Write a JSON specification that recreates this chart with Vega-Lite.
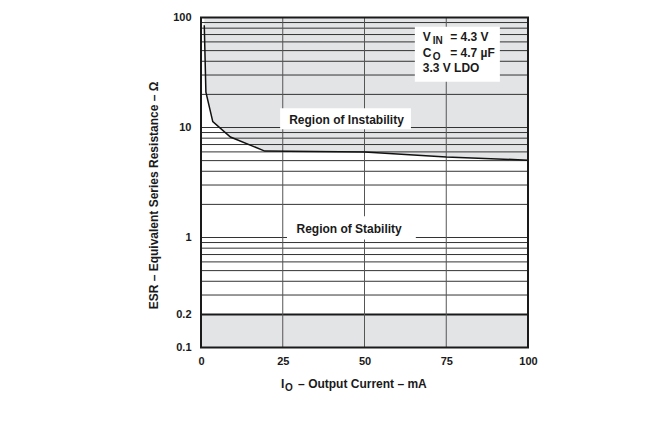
{
  "$schema": "https://vega.github.io/schema/vega-lite/v6.json",
  "width": 327,
  "height": 330,
  "autosize": {"type": "none"},
  "padding": {"left": 201, "top": 17.5, "right": 139, "bottom": 74.5},
  "background": "white",
  "config": {
    "font": "Liberation Sans",
    "view": {"stroke": null}
  },
  "datasets": {
    "curve": [
      {"x": 1.0, "y": 85},
      {"x": 1.5, "y": 21},
      {"x": 3.6, "y": 11.3},
      {"x": 9, "y": 8.2},
      {"x": 19.5, "y": 6.1},
      {"x": 50, "y": 6.0},
      {"x": 75, "y": 5.4},
      {"x": 100, "y": 5.05}
    ],
    "band": [{"x": 0, "x2": 100, "y": 0.1, "y2": 0.2}],
    "frame": [{"x": 0, "x2": 100, "y": 0.1, "y2": 100}],
    "hgrid": [
      {"x": 0, "x2": 100, "y": 0.3}, {"x": 0, "x2": 100, "y": 0.4}, {"x": 0, "x2": 100, "y": 0.5},
      {"x": 0, "x2": 100, "y": 0.6}, {"x": 0, "x2": 100, "y": 0.7}, {"x": 0, "x2": 100, "y": 0.8},
      {"x": 0, "x2": 100, "y": 0.9}, {"x": 0, "x2": 100, "y": 1}, {"x": 0, "x2": 100, "y": 2},
      {"x": 0, "x2": 100, "y": 3}, {"x": 0, "x2": 100, "y": 4}, {"x": 0, "x2": 100, "y": 5},
      {"x": 0, "x2": 100, "y": 6}, {"x": 0, "x2": 100, "y": 7}, {"x": 0, "x2": 100, "y": 8},
      {"x": 0, "x2": 100, "y": 9}, {"x": 0, "x2": 100, "y": 10}, {"x": 0, "x2": 100, "y": 20},
      {"x": 0, "x2": 100, "y": 30}, {"x": 0, "x2": 100, "y": 40}, {"x": 0, "x2": 100, "y": 50},
      {"x": 0, "x2": 100, "y": 60}, {"x": 0, "x2": 100, "y": 70}, {"x": 0, "x2": 100, "y": 80},
      {"x": 0, "x2": 100, "y": 90}
    ],
    "thick": [{"x": 0, "x2": 100, "y": 0.2}],
    "vgrid": [
      {"x": 25, "y": 0.1, "y2": 100},
      {"x": 50, "y": 0.1, "y2": 100},
      {"x": 75, "y": 0.1, "y2": 100}
    ],
    "boxes": [
      {"x": 24.2, "x2": 64.2, "y": 9.66, "y2": 15.0},
      {"x": 26.3, "x2": 65.7, "y": 0.96, "y2": 1.56},
      {"x": 65.4, "x2": 91.4, "y": 26, "y2": 82.4}
    ],
    "regions": [
      {"x": 44.5, "y": 11.8, "text": "Region of Instability"},
      {"x": 45.3, "y": 1.19, "text": "Region of Stability"}
    ],
    "main": [
      {"x": 67.8, "y": 66.8, "text": "V"},
      {"x": 67.8, "y": 47.2, "text": "C"},
      {"x": 67.8, "y": 34.5, "text": "3.3 V LDO"},
      {"x": 24.5, "y": 0.0466, "text": "I"}
    ],
    "subs": [
      {"x": 67.8, "y": 66.8, "text": "IN"},
      {"x": 67.8, "y": 47.2, "text": "O"}
    ],
    "xsub": [{"x": 24.5, "y": 0.0466, "text": "O"}],
    "rest": [
      {"x": 67.8, "y": 66.8, "text": "= 4.3 V"},
      {"x": 67.8, "y": 47.2, "text": "= 4.7 µF"}
    ],
    "xtitle": [{"x": 29.7, "y": 0.0466, "text": "– Output Current – mA"}]
  },
  "encoding": {
    "x": {
      "field": "x",
      "type": "quantitative",
      "scale": {"domain": [0, 100], "nice": false, "zero": false},
      "axis": {
        "title": null,
        "values": [0, 25, 50, 75, 100],
        "grid": false,
        "ticks": false,
        "domain": false,
        "labelFlush": false,
        "labelOverlap": false,
        "labelFont": "Liberation Sans",
        "labelFontWeight": "bold",
        "labelFontSize": 11,
        "labelColor": "#1a1a1a",
        "labelPadding": 8
      }
    },
    "y": {
      "field": "y",
      "type": "quantitative",
      "scale": {"type": "log", "domain": [0.1, 100], "nice": false},
      "axis": {
        "title": "ESR – Equivalent Series Resistance – Ω",
        "values": [0.1, 0.2, 1, 10, 100],
        "format": "~g",
        "grid": false,
        "ticks": false,
        "domain": false,
        "labelFlush": false,
        "labelOverlap": false,
        "labelFont": "Liberation Sans",
        "labelFontWeight": "bold",
        "labelFontSize": 11,
        "labelColor": "#1a1a1a",
        "labelPadding": 10,
        "titleFont": "Liberation Sans",
        "titleFontWeight": "bold",
        "titleFontSize": 12,
        "titleColor": "#1a1a1a",
        "titlePadding": 12,
        "titleY": 177.5
      }
    }
  },
  "layer": [
    {
      "data": {"name": "band"},
      "mark": {"type": "rect", "color": "#e3e4e6"},
      "encoding": {"x2": {"field": "x2"}, "y2": {"field": "y2"}}
    },
    {
      "data": {"name": "curve"},
      "mark": {"type": "area", "color": "#e3e4e6", "opacity": 1},
      "encoding": {"y2": {"datum": 100}}
    },
    {
      "data": {"name": "hgrid"},
      "mark": {"type": "rule", "color": "#333333", "strokeWidth": 1},
      "encoding": {"x2": {"field": "x2"}}
    },
    {
      "data": {"name": "thick"},
      "mark": {"type": "rule", "color": "#1a1a1a", "strokeWidth": 2},
      "encoding": {"x2": {"field": "x2"}}
    },
    {
      "data": {"name": "vgrid"},
      "mark": {"type": "rule", "color": "#555555", "strokeWidth": 1},
      "encoding": {"y2": {"field": "y2"}}
    },
    {
      "data": {"name": "curve"},
      "mark": {"type": "line", "color": "#111111", "strokeWidth": 1.5}
    },
    {
      "data": {"name": "boxes"},
      "mark": {"type": "rect", "color": "white", "opacity": 1},
      "encoding": {"x2": {"field": "x2"}, "y2": {"field": "y2"}}
    },
    {
      "data": {"name": "frame"},
      "mark": {"type": "rect", "fill": null, "fillOpacity": 0, "stroke": "#1a1a1a", "strokeWidth": 2},
      "encoding": {"x2": {"field": "x2"}, "y2": {"field": "y2"}}
    },
    {
      "data": {"name": "regions"},
      "mark": {"type": "text", "font": "Liberation Sans", "fontWeight": "bold", "fontSize": 12, "color": "#1a1a1a", "align": "center", "baseline": "middle"},
      "encoding": {"text": {"field": "text"}}
    },
    {
      "data": {"name": "main"},
      "mark": {"type": "text", "font": "Liberation Sans", "fontWeight": "bold", "fontSize": 12, "color": "#1a1a1a", "align": "left", "baseline": "middle"},
      "encoding": {"text": {"field": "text"}}
    },
    {
      "data": {"name": "subs"},
      "mark": {"type": "text", "font": "Liberation Sans", "fontWeight": "bold", "fontSize": 10, "color": "#1a1a1a", "align": "left", "baseline": "middle", "dx": 10, "dy": 4},
      "encoding": {"text": {"field": "text"}}
    },
    {
      "data": {"name": "xsub"},
      "mark": {"type": "text", "font": "Liberation Sans", "fontWeight": "bold", "fontSize": 10, "color": "#1a1a1a", "align": "left", "baseline": "middle", "dx": 4, "dy": 4},
      "encoding": {"text": {"field": "text"}}
    },
    {
      "data": {"name": "rest"},
      "mark": {"type": "text", "font": "Liberation Sans", "fontWeight": "bold", "fontSize": 12, "color": "#1a1a1a", "align": "left", "baseline": "middle", "dx": 27.5},
      "encoding": {"text": {"field": "text"}}
    },
    {
      "data": {"name": "xtitle"},
      "mark": {"type": "text", "font": "Liberation Sans", "fontWeight": "bold", "fontSize": 12, "color": "#1a1a1a", "align": "left", "baseline": "middle"},
      "encoding": {"text": {"field": "text"}}
    }
  ]
}
